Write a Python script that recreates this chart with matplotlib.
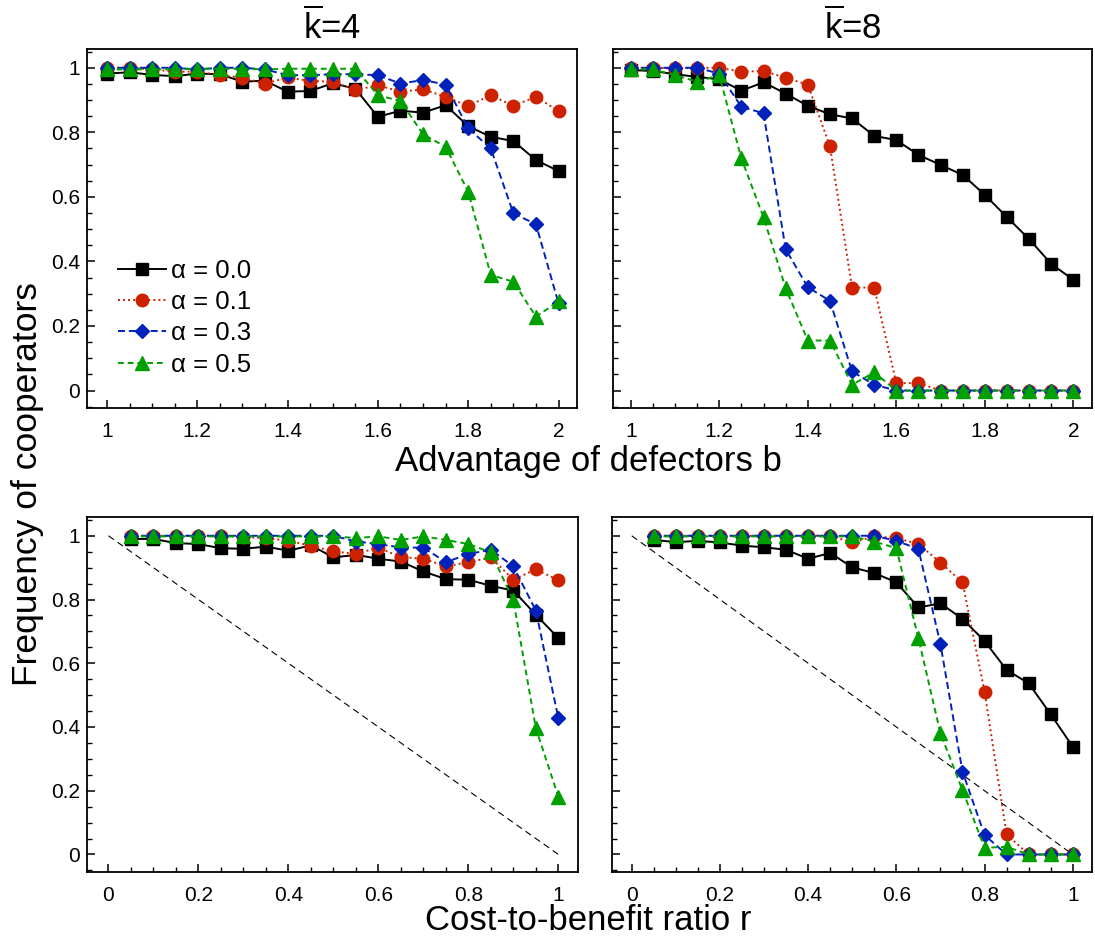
import numpy as np
import matplotlib
matplotlib.use('Agg')
import matplotlib.pyplot as plt
from matplotlib.ticker import MultipleLocator, FuncFormatter

plt.rcParams['font.family'] = ['Liberation Sans', 'DejaVu Sans']
plt.rcParams['mathtext.fontset'] = 'custom'
plt.rcParams['mathtext.rm'] = 'Liberation Sans'
plt.rcParams['mathtext.it'] = 'Liberation Sans:italic'

# advantage of defectors b (top row)
b = [1.0, 1.05, 1.1, 1.15, 1.2, 1.25, 1.3, 1.35, 1.4, 1.45, 1.5,
     1.55, 1.6, 1.65, 1.7, 1.75, 1.8, 1.85, 1.9, 1.95, 2.0]
# cost-to-benefit ratio r (bottom row)
r = [0.05, 0.1, 0.15, 0.2, 0.25, 0.3, 0.35, 0.4, 0.45, 0.5,
     0.55, 0.6, 0.65, 0.7, 0.75, 0.8, 0.85, 0.9, 0.95, 1.0]

alphas = ['0.0', '0.1', '0.3', '0.5']

# k = 4, vs b
k4_b_a00 = [0.982, 0.986, 0.978, 0.974, 0.982, 0.98, 0.957, 0.96, 0.926, 0.928, 0.952,
            0.935, 0.848, 0.867, 0.861, 0.884, 0.819, 0.786, 0.773, 0.714, 0.68]
k4_b_a01 = [1.0, 1.0, 0.995, 0.988, 0.988, 0.977, 0.969, 0.951, 0.97, 0.959, 0.957,
            0.931, 0.946, 0.926, 0.933, 0.91, 0.882, 0.915, 0.882, 0.91, 0.866]
k4_b_a03 = [1.0, 1.0, 1.0, 1.0, 0.995, 1.0, 1.0, 0.995, 0.977, 0.977, 0.98,
            0.98, 0.977, 0.951, 0.962, 0.948, 0.812, 0.75, 0.549, 0.515, 0.27]
k4_b_a05 = [0.995, 0.995, 0.995, 0.995, 0.997, 0.997, 0.997, 0.995, 0.997, 0.997, 0.997,
            0.997, 0.915, 0.897, 0.794, 0.755, 0.616, 0.358, 0.337, 0.229, 0.276]

# k = 8, vs b
k8_b_a00 = [0.993, 0.99, 0.98, 0.972, 0.964, 0.929, 0.955, 0.92, 0.882, 0.856, 0.843,
            0.789, 0.776, 0.73, 0.699, 0.668, 0.606, 0.537, 0.469, 0.392, 0.343]
k8_b_a01 = [1.0, 1.0, 0.998, 1.0, 1.0, 0.988, 0.99, 0.969, 0.948, 0.757, 0.319,
            0.319, 0.023, 0.023, 0.0, 0.0, 0.0, 0.0, 0.0, 0.0, 0.0]
k8_b_a03 = [1.0, 1.0, 1.0, 1.0, 0.982, 0.879, 0.859, 0.438, 0.32, 0.278, 0.059,
            0.018, 0.0, 0.0, 0.0, 0.0, 0.0, 0.0, 0.0, 0.0, 0.0]
k8_b_a05 = [0.995, 0.995, 0.977, 0.957, 0.977, 0.719, 0.537, 0.317, 0.155, 0.155, 0.018,
            0.056, 0.0, 0.0, 0.0, 0.0, 0.0, 0.0, 0.0, 0.0, 0.0]

# k = 4, vs r
k4_r_a00 = [0.99, 0.99, 0.977, 0.974, 0.961, 0.959, 0.966, 0.953, 0.97, 0.932,
            0.94, 0.928, 0.919, 0.888, 0.864, 0.862, 0.843, 0.828, 0.752, 0.679]
k4_r_a01 = [1.0, 1.0, 1.0, 1.0, 1.0, 0.996, 0.993, 0.984, 0.969, 0.951,
            0.943, 0.963, 0.933, 0.928, 0.904, 0.917, 0.932, 0.862, 0.895, 0.86]
k4_r_a03 = [1.0, 1.0, 1.0, 1.0, 1.0, 1.0, 1.0, 1.0, 1.0, 1.0,
            0.982, 0.974, 0.963, 0.963, 0.917, 0.943, 0.956, 0.904, 0.765, 0.427]
k4_r_a05 = [0.998, 0.998, 0.998, 0.998, 0.998, 0.998, 0.998, 0.998, 0.998, 0.998,
            0.993, 0.998, 0.987, 0.998, 0.987, 0.974, 0.948, 0.797, 0.396, 0.181]

# k = 8, vs r
k8_r_a00 = [0.987, 0.98, 0.984, 0.979, 0.969, 0.964, 0.956, 0.928, 0.946, 0.901,
            0.883, 0.854, 0.775, 0.788, 0.739, 0.67, 0.579, 0.537, 0.44, 0.338]
k8_r_a01 = [1.0, 1.0, 1.0, 1.0, 1.0, 1.0, 1.0, 1.0, 1.0, 0.979,
            0.998, 0.993, 0.974, 0.916, 0.854, 0.511, 0.063, 0.0, 0.0, 0.0]
k8_r_a03 = [1.0, 1.0, 1.0, 1.0, 1.0, 1.0, 1.0, 1.0, 1.0, 1.0,
            1.0, 0.984, 0.959, 0.66, 0.26, 0.061, 0.0, 0.0, 0.0, 0.0]
k8_r_a05 = [0.998, 0.998, 0.998, 0.998, 0.998, 0.998, 0.998, 0.998, 0.998, 0.998,
            0.982, 0.961, 0.679, 0.38, 0.202, 0.021, 0.024, 0.0, 0.0, 0.0]

# reference diagonal in the bottom panels
diag_x = [0.0, 1.0]
diag_y = [1.0, 0.0]

styles = [
    dict(color='black', marker='s', ms=8.5, ls='-'),
    dict(color='#cc2200', marker='o', ms=9, ls=(0, (1, 1.6))),
    dict(color='#0022bb', marker='D', ms=7, ls=(0, (3.6, 2))),
    dict(color='#00a000', marker='^', ms=9.5, ls=(0, (3, 2))),
]


def fmt(v, pos):
    return '%g' % round(v, 2)


def setup(ax, xlim, ylim, major, labels_y=True):
    ax.set_xlim(*xlim)
    ax.set_ylim(*ylim)
    ax.xaxis.set_major_locator(MultipleLocator(major))
    ax.xaxis.set_minor_locator(MultipleLocator(0.05))
    ax.yaxis.set_major_locator(MultipleLocator(0.2))
    ax.yaxis.set_minor_locator(MultipleLocator(0.05))
    ax.xaxis.set_major_formatter(FuncFormatter(fmt))
    ax.yaxis.set_major_formatter(FuncFormatter(fmt))
    ax.tick_params(which='major', direction='in', length=6, width=1.1,
                   labelsize=15)
    ax.tick_params(axis='x', which='major', pad=10)
    ax.tick_params(axis='y', which='major', pad=5)
    ax.tick_params(which='minor', direction='in', length=3.5, width=1.0)
    if not labels_y:
        ax.tick_params(axis='y', labelleft=False)
    for s in ax.spines.values():
        s.set_linewidth(1.3)


def draw(ax, x, series):
    for ys, st, a in zip(series, styles, alphas):
        ax.plot(x, ys, color=st['color'], marker=st['marker'], ms=st['ms'],
                ls=st['ls'], lw=1.4, mec=st['color'], label='α = ' + a)


fig = plt.figure(figsize=(10.95, 9.47), dpi=100)
ax1 = fig.add_axes([0.0795, 0.5692, 0.4475, 0.379])
ax2 = fig.add_axes([0.5598, 0.5692, 0.4375, 0.379])
ax3 = fig.add_axes([0.0797, 0.0792, 0.4479, 0.3749])
ax4 = fig.add_axes([0.5592, 0.0792, 0.4378, 0.3749])

draw(ax1, b, [k4_b_a00, k4_b_a01, k4_b_a03, k4_b_a05])
draw(ax2, b, [k8_b_a00, k8_b_a01, k8_b_a03, k8_b_a05])
for ax in (ax3, ax4):
    ax.plot(diag_x, diag_y, color='black', lw=0.8, ls=(0, (6, 4)))
draw(ax3, r, [k4_r_a00, k4_r_a01, k4_r_a03, k4_r_a05])
draw(ax4, r, [k8_r_a00, k8_r_a01, k8_r_a03, k8_r_a05])

setup(ax1, (0.956, 2.041), (-0.054, 1.058), 0.2)
setup(ax2, (0.96, 2.042), (-0.054, 1.058), 0.2, labels_y=False)
setup(ax3, (-0.047, 1.043), (-0.055, 1.059), 0.2)
setup(ax4, (-0.044, 1.043), (-0.055, 1.059), 0.2, labels_y=False)

ax1.set_title(r'$\overline{\mathrm{k}}$=4', fontsize=25, pad=7)
ax2.set_title(r'$\overline{\mathrm{k}}$=8', fontsize=25, pad=7)

ax1.legend(loc='upper left', bbox_to_anchor=(0.027, 0.465), frameon=False,
           fontsize=18.5, handlelength=1.87, handletextpad=0.2,
           labelspacing=0.28, borderpad=0.2)

fig.text(0.537, 0.503, 'Advantage of defectors b', fontsize=25, ha='center', va='baseline')
fig.text(0.537, 0.0175, 'Cost-to-benefit ratio r', fontsize=25, ha='center', va='baseline')
fig.text(0.025, 0.489, 'Frequency of cooperators', fontsize=25.5, rotation=90,
         ha='center', va='center')

fig.savefig('out.png', dpi=100)
